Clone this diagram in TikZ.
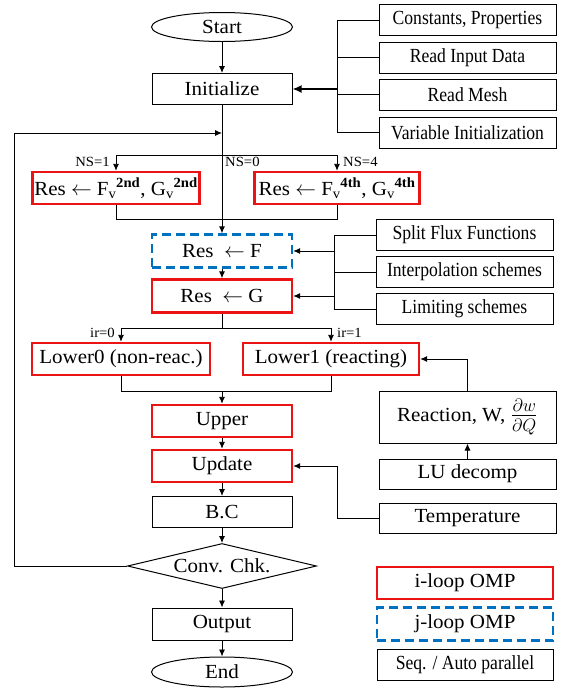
\documentclass[tikz,border=0pt]{standalone}
\usepackage{fontspec}
\setmainfont{Liberation Serif}[FakeStretch=1.05]
\newfontfamily\condfont{Liberation Serif}[FakeStretch=0.88]
\usetikzlibrary{shapes.geometric,arrows.meta}
\definecolor{boxred}{RGB}{235,20,20}
\definecolor{boxblue}{RGB}{0,112,192}
\newcommand{\mainsz}{\fontsize{20}{22}\selectfont}
\newcommand{\sidesz}{\condfont\fontsize{20}{22}\selectfont}
\newcommand{\lblsz}{\fontsize{14}{15}\selectfont}
\newcommand{\supb}[1]{\textsuperscript{\bfseries #1}}
\begin{document}
\begin{tikzpicture}[x=1pt,y=-1pt,
  base/.style={draw, line width=1pt, minimum height=31pt, inner sep=1pt, font=\mainsz},
  mainbox/.style={base, minimum width=140pt},
  redbox/.style={mainbox, draw=boxred, line width=2.4pt},
  bluebox/.style={mainbox, draw=boxblue, line width=2.4pt, dash pattern=on 9pt off 5pt},
  sidebox/.style={base, minimum width=177pt, font=\sidesz},
  regside/.style={base, minimum width=177pt},
  conn/.style={line width=0.9pt},
  arr/.style={conn, -{Latex[length=7pt,width=6pt]}},
  lbl/.style={font=\lblsz, inner sep=1pt},
  term/.style={draw, line width=1pt, ellipse, minimum width=141pt, minimum height=29pt, inner sep=0pt, font=\mainsz}]
\useasboundingbox (0,0) rectangle (562,689);

% main column
\node[term] (start) at (222,27) {Start};
\node[mainbox] (init) at (222,89) {Initialize};
\node[redbox, minimum width=167pt, minimum height=32pt] (fv2) at (116,188) {Res $\leftarrow$ F$_{\mathrm{v}}$\supb{2nd}, G$_{\mathrm{v}}$\supb{2nd}};
\node[redbox, minimum width=165pt, minimum height=32pt] (fv4) at (337,188) {Res $\leftarrow$ F$_{\mathrm{v}}$\supb{4th}, G$_{\mathrm{v}}$\supb{4th}};
\node[bluebox, minimum height=33pt] (resF) at (222,251) {Res\ \ $\leftarrow$ F};
\node[redbox, minimum height=33pt] (resG) at (222,296) {Res\ \ $\leftarrow$ G};
\node[redbox, minimum width=178pt, minimum height=32pt] (low0) at (121,359) {Lower0 (non-reac.)};
\node[redbox, minimum width=176pt, minimum height=32pt] (low1) at (331,359) {Lower1 (reacting)};
\node[redbox, minimum height=32pt] (upper) at (222,421) {Upper};
\node[redbox, minimum height=32pt] (update) at (222,466) {Update};
\node[mainbox] (bc) at (222,512) {B.C};
\node[draw, line width=1pt, diamond, aspect=4.2, minimum width=189pt, minimum height=45pt, inner sep=0pt, font=\mainsz] (chk) at (222,566) {Conv. Chk.};
\node[mainbox, minimum height=32pt] (out) at (222,624) {Output};
\node[term, minimum height=30pt] (end) at (222,672) {End};

% right side
\node[sidebox] (cst) at (467.5,20) {Constants, Properties};
\node[sidebox] (rid) at (467.5,57.5) {Read Input Data};
\node[sidebox] (rmesh) at (467.5,94.5) {Read Mesh};
\node[sidebox] (vinit) at (467.5,132.5) {Variable Initialization};
\node[sidebox] (sff) at (464.5,235) {Split Flux Functions};
\node[sidebox] (interp) at (464.5,272) {Interpolation schemes};
\node[sidebox] (limit) at (464.5,309) {Limiting schemes};
\node[regside, minimum height=52pt] (react) at (467.5,417) {Reaction, W, \raisebox{-1pt}{\scalebox{1.25}{$\frac{\partial w}{\partial Q}$}}};
\node[regside, minimum height=30pt] (lu) at (467.5,474) {LU decomp};
\node[regside, minimum height=30pt] (temp) at (467.5,518) {Temperature};

% legend
\node[redbox, minimum width=176pt, minimum height=32pt] (iloop) at (465,583) {i-loop OMP};
\node[bluebox, minimum width=176pt, minimum height=33pt] (jloop) at (465,624) {j-loop OMP};
\node[sidebox, minimum width=176pt, minimum height=31pt] (seq) at (465,665) {Seq. / Auto parallel};

% coordinates
\coordinate (bus1t) at (337,20);
\coordinate (bus1b) at (337,132.5);
\coordinate (bus1m) at (337,89);
\coordinate (br1) at (222,155);
\coordinate (br1l) at (116,155);
\coordinate (br1r) at (337,155);
\coordinate (mg1l) at (116,219);
\coordinate (mg1r) at (337,219);
\coordinate (bus2t) at (334,235);
\coordinate (bus2b) at (334,309);
\coordinate (bus2f) at (334,251);
\coordinate (bus2g) at (334,296);
\coordinate (br2) at (222,328);
\coordinate (br2l) at (121,328);
\coordinate (br2r) at (331,328);
\coordinate (mg2l) at (121,391);
\coordinate (mg2r) at (331,391);
\coordinate (mg2) at (222,391);
\coordinate (fb1) at (14,566);
\coordinate (fb2) at (14,133);
\coordinate (fb3) at (222,133);
\coordinate (rx) at (467.5,359);
\coordinate (tx1) at (337,518);
\coordinate (tx2) at (337,466);

% connectors main
\draw[arr] (start) -- (init);
\draw[arr] (init.south) -- (resF.north);
\draw[conn] (br1l) -- (br1r);
\draw[arr] (br1l) -- (fv2.north);
\draw[arr] (br1r) -- (fv4.north);
\draw[conn] (fv2.south) -- (mg1l) -- (mg1r) -- (fv4.south);
\draw[arr] (resF) -- (resG);
\draw[conn] (resG.south) -- (br2);
\draw[conn] (br2l) -- (br2r);
\draw[arr] (br2l) -- (low0.north);
\draw[arr] (br2r) -- (low1.north);
\draw[conn] (low0.south) -- (mg2l) -- (mg2r) -- (low1.south);
\draw[arr] (mg2) -- (upper);
\draw[arr] (upper) -- (update);
\draw[arr] (update) -- (bc);
\draw[arr] (bc) -- (chk);
\draw[arr] (chk) -- (out);
\draw[arr] (out) -- (end);
\draw[arr] (chk.west) -- (fb1) -- (fb2) -- (fb3);

% right connectors
\draw[conn] (bus1t) -- (bus1b);
\draw[conn] (cst.west) -- (bus1t);
\draw[conn] (rid.west) -- (rid.west -| bus1t);
\draw[conn] (rmesh.west) -- (rmesh.west -| bus1t);
\draw[conn] (vinit.west) -- (bus1b);
\draw[line width=1.8pt, -{Latex[length=9pt,width=8pt]}] (bus1m) -- (init.east);
\draw[conn] (bus2t) -- (bus2b);
\draw[conn] (sff.west) -- (bus2t);
\draw[conn] (interp.west) -- (interp.west -| bus2t);
\draw[conn] (limit.west) -- (bus2b);
\draw[arr] (bus2f) -- (resF.east);
\draw[arr] (bus2g) -- (resG.east);
\draw[arr] (lu) -- (react);
\draw[arr] (react.north) -- (rx) -- (low1.east);
\draw[arr] (temp.west) -- (tx1) -- (tx2) -- (update.east);

% labels
\node[lbl, anchor=east] (ns1) at (111,162) {NS=1};
\node[lbl, anchor=west] (ns0) at (224,162) {NS=0};
\node[lbl, anchor=west] (ns4) at (342,162) {NS=4};
\node[lbl, anchor=east] (ir0) at (116,333) {ir=0};
\node[lbl, anchor=west] (ir1) at (336,333) {ir=1};
\end{tikzpicture}
\end{document}
